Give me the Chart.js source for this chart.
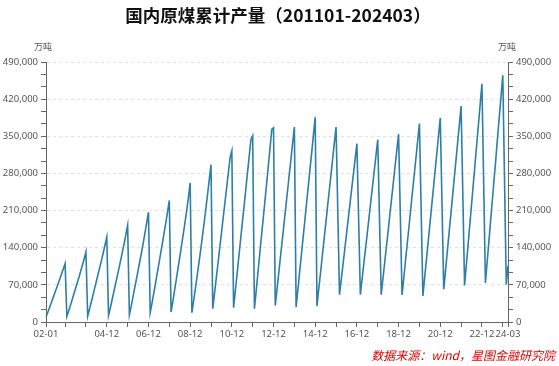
<!DOCTYPE html>
<html><head><meta charset="utf-8">
<script src="https://cdn.jsdelivr.net/npm/chart.js@4.4.1/dist/chart.umd.min.js"></script>
<style>html,body{margin:0;padding:0;background:#fff;}#wrap{width:559px;height:366px;position:relative;}</style>
</head><body><div id="wrap"><canvas id="c" width="559" height="366"></canvas></div>
<script>
// Years covered and cumulative monthly production (万吨), Jan..Dec per year
const years = [2002,2003,2004,2005,2006,2007,2008,2009,2010,2011,2012,2013,2014,2015,2016,2017,2018,2019,2020,2021,2022,2023,2024];
const cumulative = [
  [9400, 17800, 26800, 35800, 45000, 54200, 63300, 72500, 81700, 91000, 100400, 110000],
  [10500, 20200, 30800, 41500, 52300, 63000, 73800, 84700, 96000, 107500, 119600, 132000],
  [11000, 23500, 36800, 50000, 63400, 76800, 90000, 103500, 117000, 131000, 145500, 160000],
  [12600, 26000, 41000, 56000, 71000, 86000, 101000, 116500, 132000, 148000, 165000, 182000],
  [13500, 29000, 46000, 63000, 80000, 97000, 114000, 131000, 149000, 168000, 187500, 207000],
  [18000, 35000, 53500, 72000, 91000, 110000, 129000, 148000, 167500, 187500, 208000, 229000],
  [18800, 38000, 59000, 80000, 101000, 122000, 143500, 165000, 187000, 210000, 235000, 262000],
  [17500, 40000, 63000, 86000, 110000, 134500, 160000, 186000, 212000, 240000, 268000, 296500],
  [25000, 53000, 82000, 110000, 139000, 167000, 196000, 224000, 253000, 281000, 310000, 322500],
  [27000, 58000, 90000, 122000, 154000, 186000, 217000, 249000, 281000, 312000, 344000, 351000],
  [25000, 58000, 92000, 126000, 160000, 193000, 226000, 260000, 294000, 328000, 363000, 366000],
  [31000, 61000, 92000, 123000, 153000, 184000, 214000, 245000, 276000, 306000, 337000, 367500],
  [28000, 60000, 93000, 125000, 158000, 190000, 223000, 255000, 288000, 320000, 353000, 386000],
  [30000, 61000, 91000, 122000, 153000, 183000, 214000, 245000, 275000, 306000, 337000, 367500],
  [null, 51500, 80000, 108000, 137000, 165000, 194000, 222000, 251000, 279000, 308000, 336000],
  [null, 51500, 81000, 110000, 139000, 168000, 197000, 227000, 256000, 285000, 314000, 343600],
  [null, 51500, 82000, 112000, 142000, 172000, 203000, 233000, 263000, 294000, 324000, 354000],
  [null, 51000, 83000, 116000, 148000, 180000, 213000, 245000, 277000, 309000, 342000, 374000],
  [null, 49000, 83000, 116000, 150000, 183000, 217000, 250000, 284000, 317000, 351000, 384500],
  [null, 61600, 96000, 131000, 165000, 200000, 234000, 269000, 303000, 338000, 372000, 407000],
  [null, 69000, 107000, 145000, 183000, 221000, 259000, 297000, 335000, 373000, 411000, 449000],
  [null, 73500, 113000, 152000, 191000, 230000, 269000, 308000, 348000, 387000, 426000, 465000],
  [null, 70500, 106000]
];
const shownTickLabels = ['02-01','04-12','06-12','08-12','10-12','12-12','14-12','16-12','18-12','20-12','22-12','24-03'];
const yMajorTicks = [0, 70000, 140000, 210000, 280000, 350000, 420000, 490000];
const titleText = '国内原煤累计产量（201101-202403）';
const unitText = '万吨';
const sourceText = '数据来源：wind，星图金融研究院';

// Build category labels and flat series
const labels = [];
const values = [];
years.forEach((y, i) => {
  cumulative[i].forEach((v, m) => {
    labels.push(String(y).slice(2) + '-' + String(m + 1).padStart(2, '0'));
    values.push(v);
  });
});
const lastIdx = labels.length - 1;
const isMarked = i => i === 0 || i === lastIdx || (labels[i] && labels[i].endsWith('-12'));

const yTickValues = [];
yMajorTicks.forEach((v, i) => {
  yTickValues.push(v);
  if (i < yMajorTicks.length - 1) {
    const step = (yMajorTicks[i + 1] - v) / 3;
    yTickValues.push(v + step, v + 2 * step);
  }
});
const isMajor = v => yMajorTicks.some(t => Math.abs(t - v) < 1);

const FONT = '"Noto Sans", "Noto Sans CJK SC", sans-serif';

const decor = {
  id: 'decor',
  afterDraw(chart) {
    const ctx = chart.ctx;
    ctx.save();
    ctx.fillStyle = '#111';
    ctx.font = 'bold 17.5px "Noto Sans CJK SC", sans-serif';
    ctx.textAlign = 'center';
    ctx.textBaseline = 'middle';
    ctx.fillText(titleText, 278, 15);
    ctx.fillStyle = '#555';
    ctx.font = '9px "Noto Sans CJK SC", sans-serif';
    ctx.fillText(unitText, 43, 47);
    ctx.fillText(unitText, 507, 47);
    ctx.fillStyle = '#e00000';
    ctx.font = 'italic 12px "Noto Sans CJK SC", sans-serif';
    ctx.textAlign = 'right';
    ctx.fillText(sourceText, 555, 355);
    ctx.restore();
  }
};

const yCommon = {
  min: 0, max: 490000,
  afterBuildTicks: axis => { axis.ticks = yTickValues.map(v => ({ value: v })); },
  ticks: {
    autoSkip: false,
    color: '#555',
    padding: 3,
    font: { family: FONT, size: 9.5 },
    callback: v => isMajor(v) ? Math.round(v).toLocaleString('en-US') : ''
  },
  border: { color: '#666', width: 1, dash: [3, 3] }
};

new Chart(document.getElementById('c'), {
  type: 'line',
  data: {
    labels,
    datasets: [{
      data: values,
      borderColor: '#2d7ea8',
      borderWidth: 1.6,
      pointRadius: 0,
      tension: 0,
      spanGaps: true,
      yAxisID: 'y'
    }]
  },
  options: {
    responsive: false,
    animation: false,
    layout: { padding: { top: 62, bottom: 22, left: 0, right: 0 } },
    plugins: { legend: { display: false }, tooltip: { enabled: false }, title: { display: false } },
    scales: {
      x: {
        type: 'category',
        offset: false,
        afterFit: axis => { axis.height = 22; },
        grid: {
          drawOnChartArea: false,
          tickLength: 5,
          tickColor: ctx => isMarked(ctx.index) ? '#666' : 'rgba(0,0,0,0)'
        },
        border: { color: '#666', width: 1 },
        ticks: {
          autoSkip: false, maxRotation: 0, minRotation: 0, padding: 2,
          color: '#555',
          font: { family: FONT, size: 9.5 },
          callback: (v, i) => shownTickLabels.includes(labels[i]) ? labels[i] : ''
        }
      },
      y: Object.assign({}, yCommon, {
        position: 'left',
        afterFit: axis => { axis.width = 46; },
        grid: {
          drawOnChartArea: true,
          tickLength: 5,
          tickColor: '#666',
          tickBorderDash: [],
          color: ctx => (ctx.tick && isMajor(ctx.tick.value) && ctx.tick.value > 0) ? '#e0e0e0' : 'rgba(0,0,0,0)'
        }
      }),
      y1: Object.assign({}, yCommon, {
        position: 'right',
        afterFit: axis => { axis.width = 51; },
        grid: { drawOnChartArea: false, tickLength: 5, tickColor: '#666', tickBorderDash: [] }
      })
    }
  },
  plugins: [decor]
});
</script>
</body></html>
